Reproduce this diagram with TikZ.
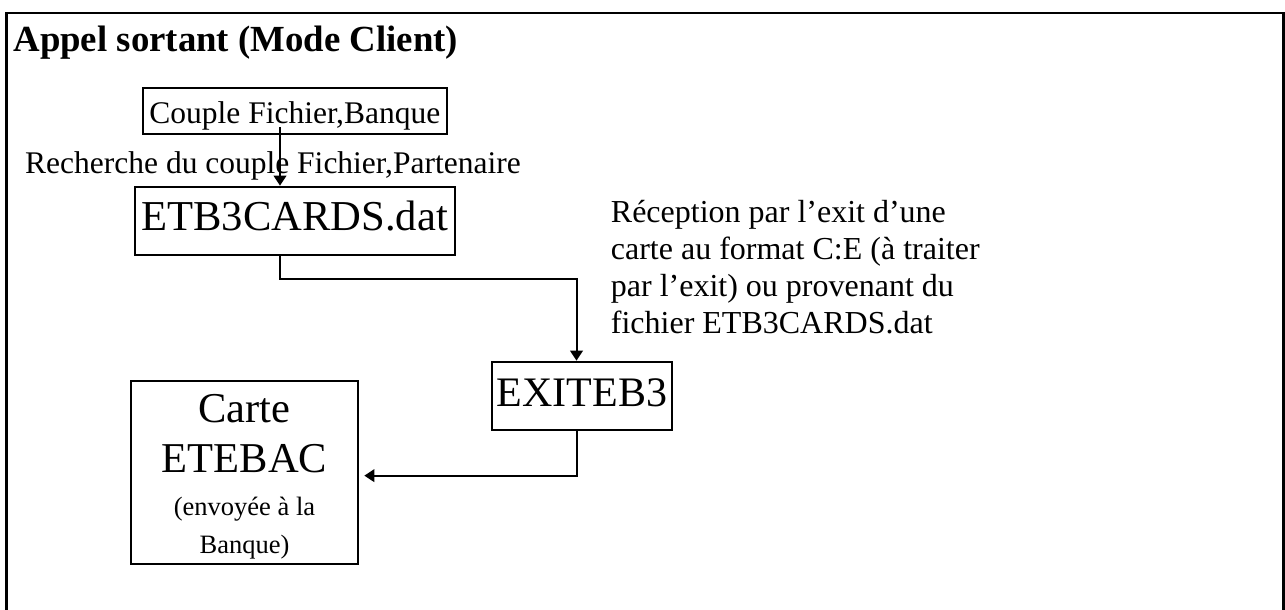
\documentclass[tikz,border=0pt]{standalone}
\usepackage{fontspec}
\setmainfont{Liberation Serif}
\usetikzlibrary{arrows.meta}
\newcommand\myrow[2]{\hbox to 220pt{\hss\fontsize{#1}{#1}\selectfont\smash{#2}\hss}}
\newcommand\myleftrow[2]{\hbox{\fontsize{#1}{#1}\selectfont\smash{#2}}}
\begin{document}
\begin{tikzpicture}[x=1pt,y=-1pt,
  boxnode/.style={draw, line width=2pt, inner sep=0pt, anchor=base},
  plaintext/.style={inner sep=0pt, anchor=base west},
  conn/.style={line width=2pt, -{Triangle[length=10pt,width=12.5pt]}},
  frameline/.style={line width=2.5pt}]
\useasboundingbox (0,0) rectangle (1285,610);
\draw[frameline] (6.5,615) -- (6.5,12.8) -- (1283.5,12.8) -- (1283.5,615);
\node[plaintext, font=\fontsize{36.8}{44}\selectfont\bfseries] (title) at (13.3,51.7) {Appel sortant (Mode Client)};
\node[boxnode, font=\fontsize{31.5}{38}\selectfont, minimum width=304.3pt, text height=35pt, text depth=10.7pt] (cf) at (294.85,123.3) {Couple Fichier,Banque};
\node[plaintext, font=\fontsize{31.5}{38}\selectfont] (rech) at (25,173.3) {Recherche du couple Fichier,Partenaire};
\node[boxnode, font=\fontsize{42.6}{50}\selectfont, minimum width=320pt, text height=43.3pt, text depth=25.3pt] (etb) at (294.7,230) {ETB3CARDS.dat};
\node[plaintext] (recep) at (610.7,222) {\vtop{\offinterlineskip
  \myleftrow{32}{Réception par l’exit d’une}\kern37.3pt
  \myleftrow{32}{carte au format C:E (à traiter}\kern37.3pt
  \myleftrow{32}{par l’exit) ou provenant du}\kern37.3pt
  \myleftrow{32}{fichier ETB3CARDS.dat}}};
\node[boxnode, font=\fontsize{42}{50}\selectfont, minimum width=179.4pt, text height=45pt, text depth=23.3pt] (ex) at (582,406.7) {EXITEB3};
\node[boxnode, minimum width=227.6pt, text height=42pt, text depth=141.3pt] (carte) at (244.5,422.7) {\vtop{\offinterlineskip
  \myrow{42.5}{Carte}\kern50pt
  \myrow{42.5}{ETEBAC}\kern42.3pt
  \myrow{26.5}{(envoyée à la}\kern38.3pt
  \myrow{26.5}{Banque)}}};
\draw[conn] ([xshift=-14.85pt,yshift=8pt]cf.south) -- ([xshift=-14.7pt]etb.north);
\draw[conn] ([xshift=-14.7pt]etb.south) -- ++(0,22.5) -| ([xshift=-5.5pt]ex.north);
\draw[conn] ([xshift=-5.5pt]ex.south) |- ([xshift=5pt,yshift=-3.3pt]carte.east);
\end{tikzpicture}
\end{document}
